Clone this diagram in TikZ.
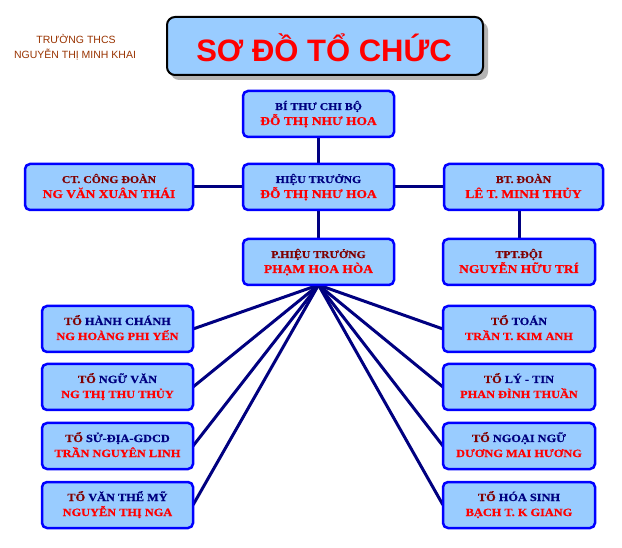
\documentclass[tikz,border=0pt]{standalone}
\usepackage{fontspec}
\setmainfont{Liberation Serif}
\newfontfamily\boxfont{Liberation Serif}[UprightFont={* Bold}, FakeStretch=1.12, FakeBold=0.6]
\newfontfamily\titlefont{Liberation Sans}
\newfontfamily\titlebold{Liberation Sans}[UprightFont={* Bold}]
\definecolor{navy}{RGB}{0,0,128}
\definecolor{dred}{RGB}{128,0,0}
\definecolor{bred}{RGB}{255,0,0}
\definecolor{boxblue}{RGB}{0,0,255}
\definecolor{boxfill}{RGB}{153,204,255}
\definecolor{brownish}{RGB}{153,51,0}
\definecolor{shadowgray}{RGB}{180,180,180}
\tikzset{
  obox/.style={draw=boxblue, line width=2.5pt, fill=boxfill, rounded corners=5pt,
    minimum height=46pt, inner sep=0pt},
  link/.style={draw=navy, line width=3pt},
  txt/.style={inner sep=0pt, anchor=base},
}
\newcommand{\obox}[8]{%
  \node[obox, minimum width=#4] (#1) at (#2,#3) {};
  \node[txt, font=\boxfont\fontsize{#5}{#5}\selectfont] (#1-a) at ([yshift=4pt]#1.center) {#7};
  \node[txt, font=\boxfont\fontsize{#6}{#6}\selectfont, text=bred] (#1-b) at ([yshift=-11pt]#1.center) {#8};
}
\begin{document}
\begin{tikzpicture}[x=1pt,y=-1pt]
\useasboundingbox (0,0) rectangle (622,548);
\fill[white] (0,0) rectangle (622,548);
% header
\node[txt, font=\titlefont\fontsize{10.5}{10.5}\selectfont, text=brownish] (school1) at (76,44) {TRƯỜNG THCS};
\node[txt, font=\titlefont\fontsize{10.5}{10.5}\selectfont, text=brownish] (school2) at (75,59) {NGUYỄN THỊ MINH KHAI};
% title
\fill[shadowgray, rounded corners=8pt] (171,22) rectangle (488,80);
\node[draw=black, line width=2pt, fill=boxfill, rounded corners=8pt, minimum width=316pt, minimum height=58pt, inner sep=0pt] (titlebox) at (325,46) {};
\node[txt, font=\titlebold\fontsize{31}{31}\selectfont, text=bred] (title) at (324,62) {SƠ ĐỒ TỔ CHỨC};
% coordinates for fan
\coordinate (fan) at (318.5,285);
% links
\draw[link] (318.5,137) -- (318.5,164);
\draw[link] (193,187) -- (243,187);
\draw[link] (394,187) -- (444,187);
\draw[link] (318.5,210) -- (318.5,239);
\draw[link] (519,210) -- (519,239);
\foreach \yy in {329,387,446,505} {
  \draw[link] (fan) -- (193,\yy);
  \draw[link] (fan) -- (443,\yy);
}
% main boxes
\obox{bt}{318.5}{114}{151pt}{10.5}{12}{\textcolor{navy}{BÍ THƯ CHI BỘ}}{ĐỖ THỊ NHƯ HOA}
\obox{ht}{318.5}{187}{151pt}{10.5}{12}{\textcolor{navy}{HIỆU TRƯỞNG}}{ĐỖ THỊ NHƯ HOA}
\obox{cd}{109}{187}{168pt}{10.5}{12}{\textcolor{dred}{CT. CÔNG ĐOÀN}}{NG VĂN XUÂN THÁI}
\obox{doan}{523.5}{187}{159pt}{10.5}{12}{\textcolor{dred}{BT. ĐOÀN}}{LÊ T. MINH THỦY}
\obox{pht}{318.5}{262}{151pt}{10.5}{12}{\textcolor{dred}{P.HIỆU TRƯỞNG}}{PHẠM HOA HÒA}
\obox{tpt}{519}{262}{152pt}{10.5}{12}{\textcolor{dred}{TPT.ĐỘI}}{NGUYỄN HỮU TRÍ}
% team boxes left
\obox{hc}{117.5}{329}{151pt}{11}{11}{\textcolor{dred}{TỔ} \textcolor{navy}{HÀNH CHÁNH}}{NG HOÀNG PHI YẾN}
\obox{nv}{117.5}{387}{151pt}{11}{11}{\textcolor{dred}{TỔ} \textcolor{navy}{NGỮ VĂN}}{NG THỊ THU THỦY}
\obox{sd}{117.5}{446}{151pt}{11}{11}{\textcolor{dred}{TỔ} \textcolor{navy}{SỬ-ĐỊA-GDCD}}{TRẦN NGUYÊN LINH}
\obox{vtm}{117.5}{505}{151pt}{11}{11}{\textcolor{dred}{TỔ} \textcolor{navy}{VĂN THỂ MỸ}}{NGUYỄN THỊ NGA}
% team boxes right
\obox{toan}{519}{329}{152pt}{11}{11}{\textcolor{dred}{TỔ} \textcolor{navy}{TOÁN}}{TRẦN T. KIM ANH}
\obox{ly}{519}{387}{152pt}{11}{11}{\textcolor{dred}{TỔ} \textcolor{navy}{LÝ - TIN}}{PHAN ĐÌNH THUẦN}
\obox{nn}{519}{446}{152pt}{11}{11}{\textcolor{dred}{TỔ} \textcolor{navy}{NGOẠI NGỮ}}{DƯƠNG MAI HƯƠNG}
\obox{hs}{519}{505}{152pt}{11}{11}{\textcolor{dred}{TỔ} \textcolor{navy}{HÓA SINH}}{BẠCH T. K GIANG}
\end{tikzpicture}
\end{document}
